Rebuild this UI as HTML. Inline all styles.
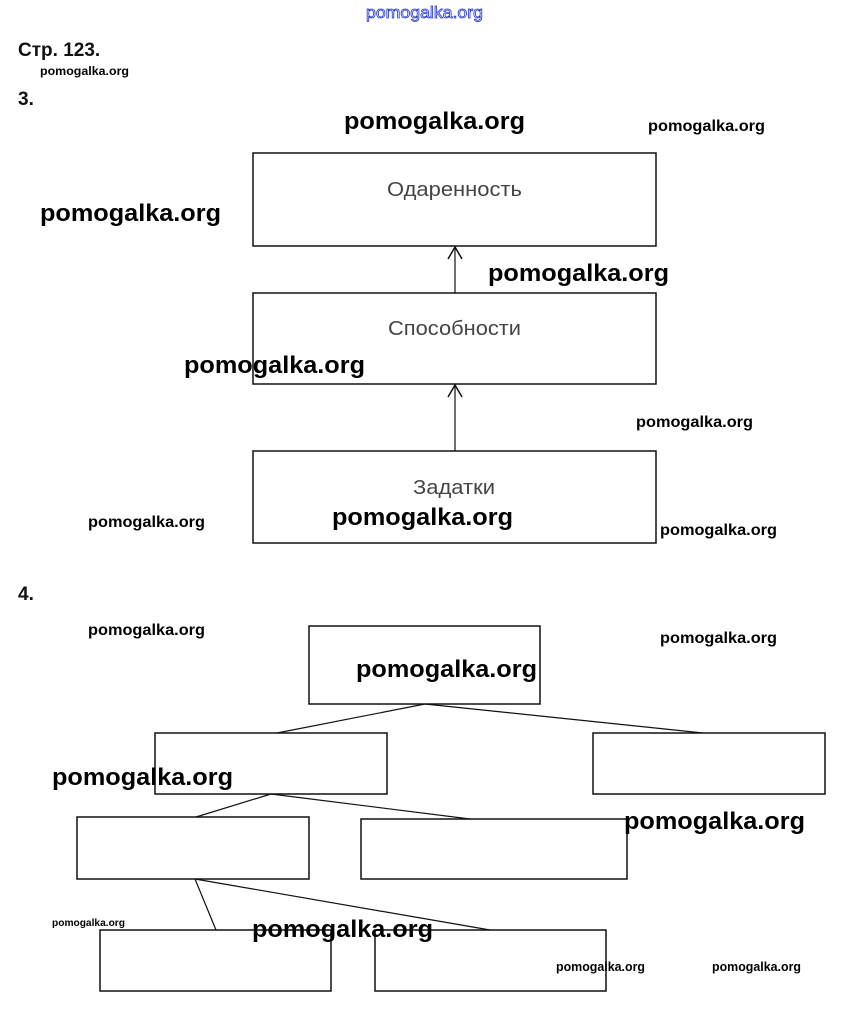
<!DOCTYPE html>
<html><head><meta charset="utf-8"><style>
html,body{margin:0;padding:0;background:#fff;width:847px;height:1015px;overflow:hidden}
svg{display:block}
.w{font-family:"Liberation Sans",sans-serif;fill:#000;font-weight:bold}
.b{font-size:24px}
.m{font-size:16px}
.s{font-size:12px}
.h{font-family:"Liberation Sans",sans-serif;font-weight:bold;font-size:19px;fill:#111}
.l{font-family:"Liberation Sans",sans-serif;font-size:20px;fill:#444}
rect{fill:none;stroke:#111;stroke-width:1.5}
line{stroke:#111;stroke-width:1.2}
</style></head><body>
<svg width="847" height="1015" viewBox="0 0 847 1015">
<text x="366" y="18" font-family="Liberation Sans,sans-serif" font-size="17" fill="#fff" stroke="#2233cc" stroke-width="0.8" textLength="117" lengthAdjust="spacingAndGlyphs">pomogalka.org</text>
<text class="h" x="18" y="56">Стр. 123.</text>
<text class="w s" x="40" y="75" textLength="89" lengthAdjust="spacingAndGlyphs">pomogalka.org</text>
<text class="h" x="18" y="105">3.</text>

<rect x="253" y="153" width="403" height="93"/>
<rect x="253" y="293" width="403" height="91"/>
<rect x="253" y="451" width="403" height="92"/>
<text class="l" x="387" y="196" textLength="135" lengthAdjust="spacingAndGlyphs">Одаренность</text>
<text class="l" x="388" y="335" textLength="133" lengthAdjust="spacingAndGlyphs">Способности</text>
<text class="l" x="413" y="494" textLength="82" lengthAdjust="spacingAndGlyphs">Задатки</text>
<line x1="455" y1="293" x2="455" y2="247"/>
<polyline points="448,259 455,247 462,259" fill="none" stroke="#111" stroke-width="1.5"/>
<line x1="455" y1="451" x2="455" y2="385"/>
<polyline points="448,397 455,385 462,397" fill="none" stroke="#111" stroke-width="1.5"/>

<text class="h" x="18" y="600">4.</text>
<rect x="309" y="626" width="231" height="78"/>
<rect x="155" y="733" width="232" height="61"/>
<rect x="593" y="733" width="232" height="61"/>
<rect x="77" y="817" width="232" height="62"/>
<rect x="361" y="819" width="266" height="60"/>
<rect x="100" y="930" width="231" height="61"/>
<rect x="375" y="930" width="231" height="61"/>
<line x1="425" y1="704" x2="277" y2="733"/>
<line x1="425" y1="704" x2="703" y2="733"/>
<line x1="271" y1="794" x2="196" y2="817"/>
<line x1="271" y1="794" x2="470" y2="819"/>
<line x1="195" y1="879" x2="216" y2="930"/>
<line x1="195" y1="879" x2="490" y2="930"/>

<g lengthAdjust="spacingAndGlyphs">
<text class="w b" x="344" y="129" textLength="181" lengthAdjust="spacingAndGlyphs">pomogalka.org</text>
<text class="w m" x="648" y="131" textLength="117" lengthAdjust="spacingAndGlyphs">pomogalka.org</text>
<text class="w b" x="40" y="221" textLength="181" lengthAdjust="spacingAndGlyphs">pomogalka.org</text>
<text class="w b" x="488" y="281" textLength="181" lengthAdjust="spacingAndGlyphs">pomogalka.org</text>
<text class="w b" x="184" y="373" textLength="181" lengthAdjust="spacingAndGlyphs">pomogalka.org</text>
<text class="w m" x="636" y="427" textLength="117" lengthAdjust="spacingAndGlyphs">pomogalka.org</text>
<text class="w m" x="88" y="527" textLength="117" lengthAdjust="spacingAndGlyphs">pomogalka.org</text>
<text class="w b" x="332" y="525" textLength="181" lengthAdjust="spacingAndGlyphs">pomogalka.org</text>
<text class="w m" x="660" y="535" textLength="117" lengthAdjust="spacingAndGlyphs">pomogalka.org</text>
<text class="w m" x="88" y="635" textLength="117" lengthAdjust="spacingAndGlyphs">pomogalka.org</text>
<text class="w m" x="660" y="643" textLength="117" lengthAdjust="spacingAndGlyphs">pomogalka.org</text>
<text class="w b" x="356" y="677" textLength="181" lengthAdjust="spacingAndGlyphs">pomogalka.org</text>
<text class="w b" x="52" y="785" textLength="181" lengthAdjust="spacingAndGlyphs">pomogalka.org</text>
<text class="w b" x="624" y="829" textLength="181" lengthAdjust="spacingAndGlyphs">pomogalka.org</text>
<text class="w" x="52" y="926" font-size="10" textLength="73" lengthAdjust="spacingAndGlyphs">pomogalka.org</text>
<text class="w b" x="252" y="937" textLength="181" lengthAdjust="spacingAndGlyphs">pomogalka.org</text>
<text class="w" x="556" y="971" font-size="13" textLength="89" lengthAdjust="spacingAndGlyphs">pomogalka.org</text>
<text class="w" x="712" y="971" font-size="13" textLength="89" lengthAdjust="spacingAndGlyphs">pomogalka.org</text>
</g>
</svg>
</body></html>
